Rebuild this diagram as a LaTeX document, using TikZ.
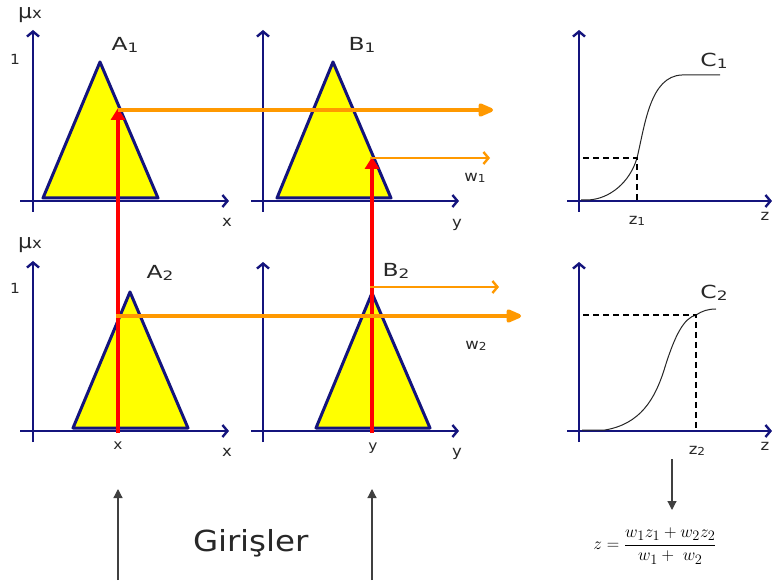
\documentclass[tikz,border=0pt]{standalone}
\usepackage{fontspec}
\setmainfont{DejaVu Sans}
\usetikzlibrary{arrows.meta}
\definecolor{navy}{RGB}{20,20,125}
\definecolor{orng}{RGB}{255,153,0}
\definecolor{triyel}{RGB}{255,255,0}
\definecolor{txt}{RGB}{40,40,40}
\newcommand{\lsub}[1]{\raisebox{-0.08em}{\fontsize{13}{13}\selectfont #1}}
\newcommand{\ssub}[1]{\raisebox{-0.1em}{\fontsize{11}{11}\selectfont #1}}
\begin{document}
\begin{tikzpicture}[x=1pt,y=-1pt,
  axis/.style={draw=navy,line width=2.6pt,-{Straight Barb[length=5pt,width=12pt,line width=2.4pt]}},
  tri/.style={draw=navy,line width=3pt,fill=triyel,line join=round},
  redarr/.style={draw=red,line width=4pt,-{Triangle[length=12pt,width=14pt]}},
  orthick/.style={draw=orng,line width=4pt,-{Triangle[length=18pt,width=14pt,round]}},
  orthin/.style={draw=orng,line width=2.6pt,-{Straight Barb[length=5pt,width=12pt,line width=2.4pt]}},
  curve/.style={draw=black!85,line width=1pt},
  dashln/.style={draw=black,line width=1.5pt,dash pattern=on 6pt off 4pt},
  blk/.style={draw=black!75,line width=1.2pt,-{Triangle[length=9pt,width=9pt]}},
  lbl/.style={text=txt,font=\fontsize{15}{15}\selectfont,inner sep=0pt,xscale=1.1},
  big/.style={text=txt,font=\fontsize{18}{18}\selectfont,inner sep=0pt,xscale=1.3},
  mu/.style={text=txt,font=\fontsize{20}{20}\selectfont,inner sep=0pt,xscale=1.1}
]
\useasboundingbox (0,0) rectangle (772,588);
\fill[white] (0,0) rectangle (772,588);

% ---------- triangles ----------
\coordinate (a1l) at (43,198); \coordinate (a1t) at (100,62); \coordinate (a1r) at (158,198);
\coordinate (b1l) at (277,198); \coordinate (b1t) at (333,62); \coordinate (b1r) at (391,198);
\coordinate (a2l) at (73,428); \coordinate (a2t) at (130,292); \coordinate (a2r) at (188,428);
\coordinate (b2l) at (316,428); \coordinate (b2t) at (372,293); \coordinate (b2r) at (430,428);
\path[tri] (a1l) -- (a1t) -- (a1r) -- cycle;
\path[tri] (b1l) -- (b1t) -- (b1r) -- cycle;
\path[tri] (a2l) -- (a2t) -- (a2r) -- cycle;
\path[tri] (b2l) -- (b2t) -- (b2r) -- cycle;

% ---------- axes ----------
\coordinate (p1y0) at (33,212); \coordinate (p1y1) at (33,30);
\coordinate (p1x0) at (20,201); \coordinate (p1x1) at (229,201);
\path[axis] (p1y0) -- (p1y1); \path[axis] (p1x0) -- (p1x1);
\coordinate (p2y0) at (263,212); \coordinate (p2y1) at (263,30);
\coordinate (p2x0) at (251,201); \coordinate (p2x1) at (459,201);
\path[axis] (p2y0) -- (p2y1); \path[axis] (p2x0) -- (p2x1);
\coordinate (p3y0) at (579,212); \coordinate (p3y1) at (579,30);
\coordinate (p3x0) at (567,201); \coordinate (p3x1) at (772,201);
\path[axis] (p3y0) -- (p3y1); \path[axis] (p3x0) -- (p3x1);
\coordinate (p4y0) at (33,442); \coordinate (p4y1) at (33,261);
\coordinate (p4x0) at (20,431); \coordinate (p4x1) at (229,431);
\path[axis] (p4y0) -- (p4y1); \path[axis] (p4x0) -- (p4x1);
\coordinate (p5y0) at (263,442); \coordinate (p5y1) at (263,262);
\coordinate (p5x0) at (251,431); \coordinate (p5x1) at (459,431);
\path[axis] (p5y0) -- (p5y1); \path[axis] (p5x0) -- (p5x1);
\coordinate (p6y0) at (579,442); \coordinate (p6y1) at (579,262);
\coordinate (p6x0) at (567,431); \coordinate (p6x1) at (772,431);
\path[axis] (p6y0) -- (p6y1); \path[axis] (p6x0) -- (p6x1);

% ---------- curves C1, C2 ----------
\path[curve] (581,200) -- (588,200) .. controls (610,199) and (630,182) .. (637,158)
  .. controls (645,125) and (650,76) .. (682,75) -- (720,75);
\coordinate (c1p) at (637,158);
\path[dashln] (583,158) -- (c1p) -- (637,200);

\path[curve] (582,430) -- (605,430) .. controls (640,424) and (655,400) .. (665,367)
  .. controls (675,335) and (684,318) .. (696,315) .. controls (702,311) and (708,309) .. (716,309);
\coordinate (c2p) at (696,315);
\path[dashln] (583,315) -- (c2p) -- (696,430);

% ---------- red input lines ----------
\coordinate (xin) at (118,433); \coordinate (xtop) at (118,108);
\coordinate (yin) at (372,433); \coordinate (ytop) at (372,157);
\path[redarr] (xin) -- (xtop);
\path[redarr] (yin) -- (ytop);

% ---------- orange lines ----------
\coordinate (o1s) at (118,110); \coordinate (o1e) at (493,110);
\coordinate (o2s) at (370,158); \coordinate (o2e) at (490,158);
\coordinate (o3s) at (370,287); \coordinate (o3e) at (499,287);
\coordinate (o4s) at (116,316); \coordinate (o4e) at (521,316);
\path[orthick] (o1s) -- (o1e);
\path[orthin] (o2s) -- (o2e);
\path[orthin] (o3s) -- (o3e);
\path[orthick] (o4s) -- (o4e);

% ---------- labels ----------
\node[mu] (mu1) at (30,15) {μ{\fontsize{15}{15}\selectfont x}};
\node[mu] (mu2) at (30,245) {μ{\fontsize{15}{15}\selectfont x}};
\node[lbl,font=\fontsize{14}{14}\selectfont] (one1) at (15,59) {1};
\node[lbl,font=\fontsize{14}{14}\selectfont] (one2) at (15,288) {1};
\node[big] (A1) at (125,45) {A\lsub{1}};
\node[big] (B1) at (362,45) {B\lsub{1}};
\node[big] (C1) at (714,61) {C\lsub{1}};
\node[big] (A2) at (160,273) {A\lsub{2}};
\node[big] (B2) at (396,271) {B\lsub{2}};
\node[big] (C2) at (714,293) {C\lsub{2}};
\node[lbl] (lx1) at (227,222) {x};
\node[lbl] (ly1) at (457,225) {y};
\node[lbl] (lz1) at (765,216) {z};
\node[lbl] (lx2) at (227,452) {x};
\node[lbl] (ly2) at (457,454) {y};
\node[lbl] (lz2) at (765,446) {z};
\node[lbl,font=\fontsize{14}{14}\selectfont] (xval) at (118,446) {x};
\node[lbl,font=\fontsize{14}{14}\selectfont] (yval) at (373,448) {y};
\node[lbl] (z1) at (637,221) {z\ssub{1}};
\node[lbl] (z2) at (697,451) {z\ssub{2}};
\node[lbl] (w1) at (475,178) {w\ssub{1}};
\node[lbl] (w2) at (476,346) {w\ssub{2}};

% ---------- bottom ----------
\node[text=txt,font=\fontsize{29}{30}\selectfont,inner sep=0pt,xscale=1.12] (gir) at (251,543) {Girişler};
\coordinate (g1s) at (118,580); \coordinate (g1e) at (118,489);
\coordinate (g2s) at (372,580); \coordinate (g2e) at (372,489);
\path[blk] (g1s) -- (g1e);
\path[blk] (g2s) -- (g2e);

\coordinate (ds) at (672,459); \coordinate (de) at (672,510);
\path[blk] (ds) -- (de);
\node[inner sep=0pt,font=\fontsize{19}{22}\selectfont] (formula) at (655,546)
  {$\displaystyle z=\frac{w_1z_1+w_2z_2}{w_1+\;w_2}$};
\end{tikzpicture}
\end{document}
